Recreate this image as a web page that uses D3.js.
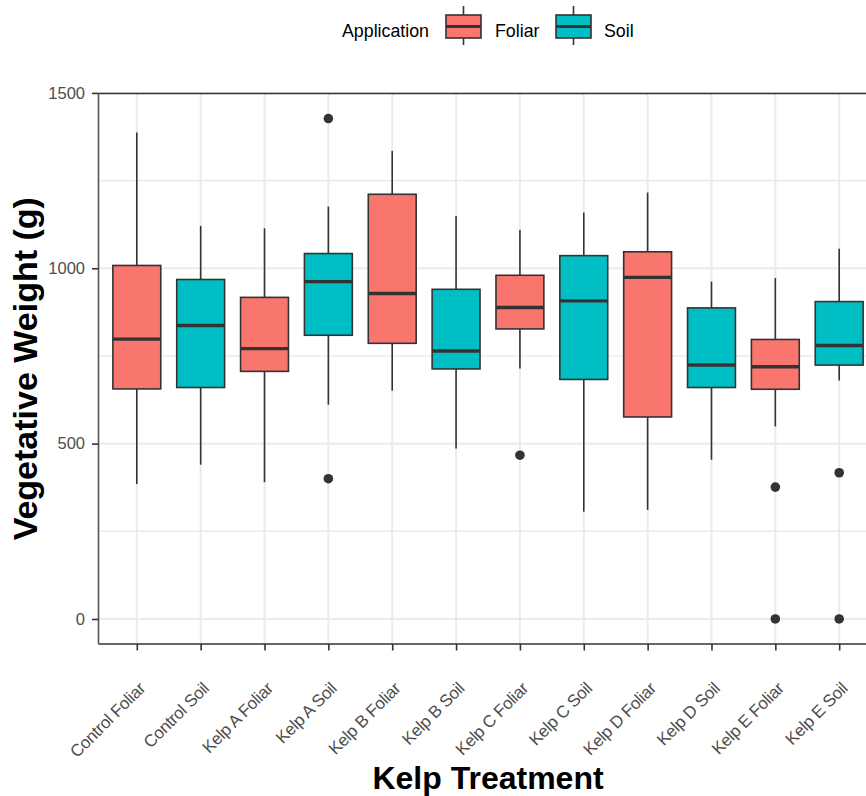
<!DOCTYPE html>
<html><head><meta charset="utf-8">
<script src="https://cdn.jsdelivr.net/npm/d3@7"></script>
<style>body{margin:0;background:#fff}svg{display:block;font-family:"Liberation Sans",Arial,sans-serif}</style>
</head><body><svg id="c" width="866" height="796"></svg>
<script>
const categories = ["Control Foliar","Control Soil","Kelp A Foliar","Kelp A Soil","Kelp B Foliar","Kelp B Soil","Kelp C Foliar","Kelp C Soil","Kelp D Foliar","Kelp D Soil","Kelp E Foliar","Kelp E Soil"];
const application = ["Foliar","Soil","Foliar","Soil","Foliar","Soil","Foliar","Soil","Foliar","Soil","Foliar","Soil"];
const whiskerLow  = [385,440,390,611,651,486,714,306,311,454,549,680];
const q1          = [656,660,706,809,786,713,827,683,576,660,655,724];
const median      = [798,837,771,962,928,764,888,907,974,724,719,780];
const q3          = [1008,968,917,1042,1211,940,980,1036,1047,887,797,905];
const whiskerHigh = [1387,1121,1114,1176,1335,1149,1109,1159,1216,962,972,1056];
const outliers    = [[],[],[],[1427,400],[],[],[467],[],[],[],[376,0],[417,0]];
const yTicks = [0,500,1000,1500];
const yMinor = [250,750,1250];
const groups = ["Foliar","Soil"];
const colors = ["#F8766D","#00BFC4"];

const data = categories.map((c,i)=>({cat:c,app:application[i],lo:whiskerLow[i],q1:q1[i],med:median[i],q3:q3[i],hi:whiskerHigh[i],out:outliers[i]}));

const svg = d3.select("#c");
const L=98.5, R=877.5, T=93.5, B=644;
const x = d3.scalePoint().domain(categories).range([L,R]).padding(0.6);
const y = d3.scaleLinear().domain([-71.35,1498.35]).range([B,T]);
const color = d3.scaleOrdinal().domain(groups).range(colors);
const bw = x.step()*0.75;
const dark="#333333";

// grid
const g = svg.append("g");
g.selectAll(".ymin").data(yMinor).join("line").attr("x1",L).attr("x2",R).attr("y1",d=>y(d)).attr("y2",d=>y(d)).attr("stroke","#ebebeb").attr("stroke-width",1.6);
g.selectAll(".ymaj").data(yTicks).join("line").attr("x1",L).attr("x2",R).attr("y1",d=>y(d)).attr("y2",d=>y(d)).attr("stroke","#ebebeb").attr("stroke-width",2);
g.selectAll(".xmaj").data(categories).join("line").attr("x1",d=>x(d)).attr("x2",d=>x(d)).attr("y1",T).attr("y2",B).attr("stroke","#ebebeb").attr("stroke-width",2);

// boxes
const bx = svg.append("g").selectAll("g").data(data).join("g");
bx.append("line").attr("x1",d=>x(d.cat)).attr("x2",d=>x(d.cat)).attr("y1",d=>y(d.hi)).attr("y2",d=>y(d.q3)).attr("stroke",dark).attr("stroke-width",1.6);
bx.append("line").attr("x1",d=>x(d.cat)).attr("x2",d=>x(d.cat)).attr("y1",d=>y(d.q1)).attr("y2",d=>y(d.lo)).attr("stroke",dark).attr("stroke-width",1.6);
bx.append("rect").attr("x",d=>x(d.cat)-bw/2).attr("width",bw).attr("y",d=>y(d.q3)).attr("height",d=>y(d.q1)-y(d.q3)).attr("fill",d=>color(d.app)).attr("stroke",dark).attr("stroke-width",1.6);
bx.append("line").attr("x1",d=>x(d.cat)-bw/2).attr("x2",d=>x(d.cat)+bw/2).attr("y1",d=>y(d.med)).attr("y2",d=>y(d.med)).attr("stroke",dark).attr("stroke-width",3.4);
bx.selectAll("circle").data(d=>d.out.map(v=>({cat:d.cat,v}))).join("circle").attr("cx",d=>x(d.cat)).attr("cy",d=>y(d.v)).attr("r",4.8).attr("fill",dark);

// panel border
svg.append("line").attr("x1",L).attr("x2",R).attr("y1",T).attr("y2",T).attr("stroke",dark).attr("stroke-width",1.6);
svg.append("line").attr("x1",L).attr("x2",R).attr("y1",B).attr("y2",B).attr("stroke",dark).attr("stroke-width",1.6);
svg.append("line").attr("x1",L).attr("x2",L).attr("y1",T).attr("y2",B).attr("stroke","#555").attr("stroke-width",1.6);

// axes
const ya = svg.append("g").attr("transform",`translate(${L},0)`).call(d3.axisLeft(y).tickValues(yTicks).tickSize(6.5).tickPadding(7).tickFormat(d3.format("d")));
ya.select(".domain").remove();
ya.selectAll("line").attr("stroke",dark).attr("stroke-width",1.6);
ya.selectAll("text").attr("fill","#4d4d4d").attr("font-size",16.5).attr("font-family","Liberation Sans, Arial, sans-serif");

const xa = svg.append("g").attr("transform",`translate(0,${B})`).call(d3.axisBottom(x).tickSize(6.5).tickFormat(""));
xa.select(".domain").remove();
xa.selectAll("line").attr("stroke",dark).attr("stroke-width",1.6);
svg.append("g").selectAll("text").data(categories).join("text")
  .attr("transform",d=>`translate(${x(d)+1},${B+37}) rotate(-45)`)
  .attr("text-anchor","end").attr("dy","0.7em").attr("letter-spacing","-0.3")
  .attr("fill","#4d4d4d").attr("font-size",17).text(d=>d);

// titles
svg.append("text").attr("x",(L+R)/2).attr("y",789).attr("text-anchor","middle").attr("font-weight","bold").attr("font-size",32).attr("fill","#000").text("Kelp Treatment");
svg.append("text").attr("transform",`translate(37,${(T+B)/2}) rotate(-90)`).attr("text-anchor","middle").attr("font-weight","bold").attr("font-size",34).attr("fill","#000").text("Vegetative Weight (g)");

// legend
const lg = svg.append("g");
lg.append("text").attr("x",342).attr("y",37).attr("font-size",17.8).attr("fill","#000").text("Application");
const keyX = [446,556], labX=[495,604];
groups.forEach((gname,i)=>{
  const k = lg.append("g");
  const cx = keyX[i]+17.5;
  k.append("line").attr("x1",cx).attr("x2",cx).attr("y1",6).attr("y2",45).attr("stroke",dark).attr("stroke-width",1.6);
  k.append("rect").attr("x",keyX[i]).attr("y",15).attr("width",35).attr("height",23).attr("fill",color(gname)).attr("stroke",dark).attr("stroke-width",1.6);
  k.append("line").attr("x1",keyX[i]).attr("x2",keyX[i]+35).attr("y1",26.5).attr("y2",26.5).attr("stroke",dark).attr("stroke-width",3);
  lg.append("text").attr("x",labX[i]).attr("y",37).attr("font-size",17.8).attr("fill","#000").text(gname);
});
</script></body></html>
